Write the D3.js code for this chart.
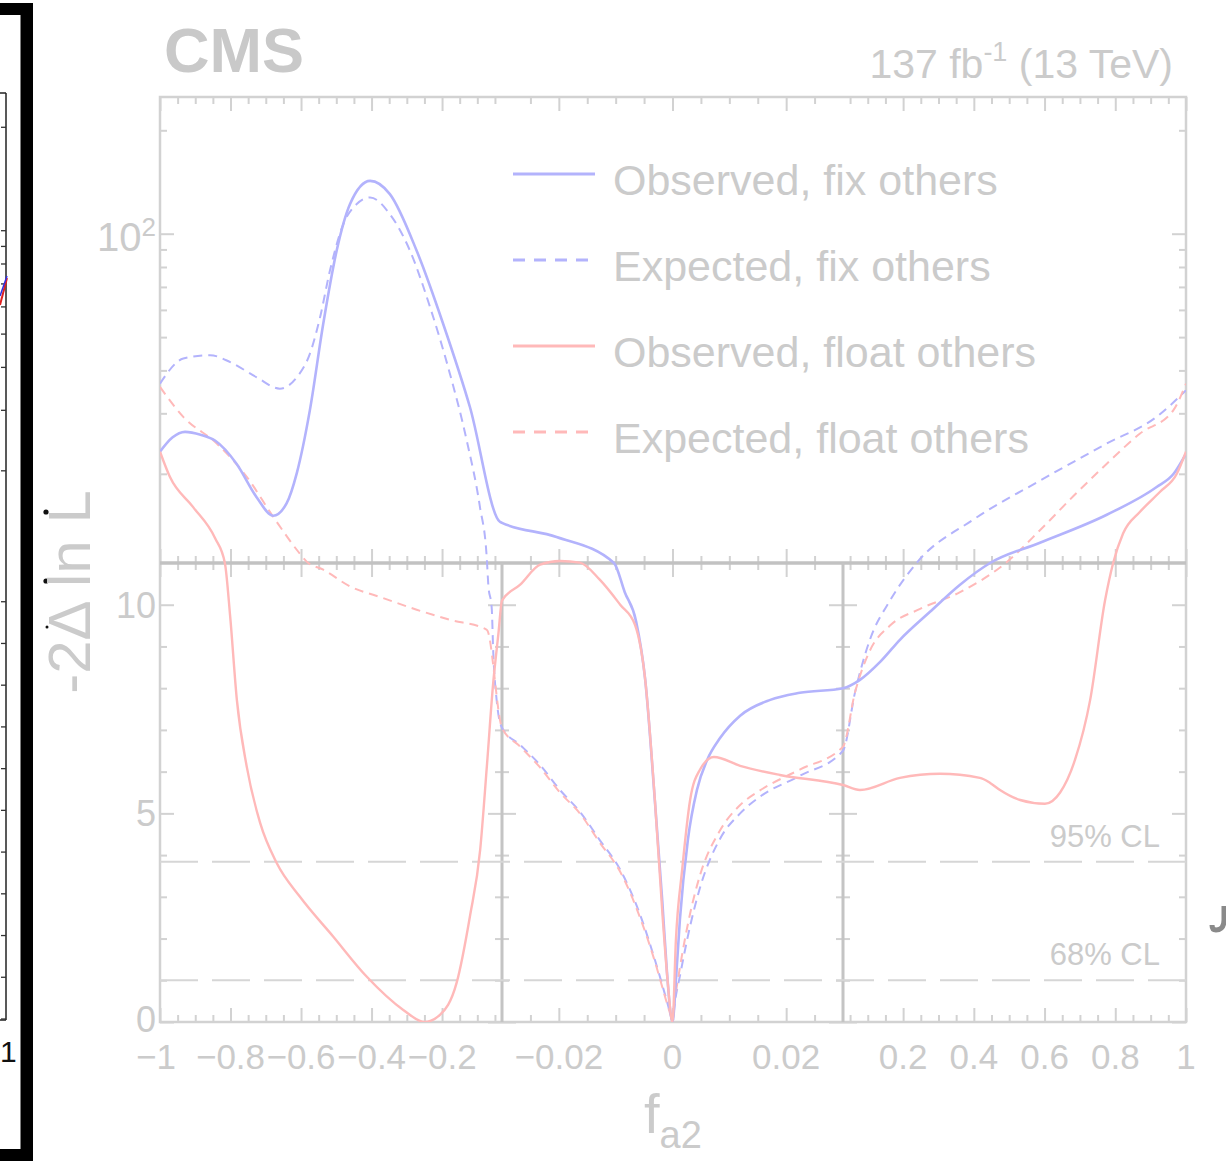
<!DOCTYPE html>
<html>
<head>
<meta charset="utf-8">
<script src="https://cdn.jsdelivr.net/npm/d3@7"></script>
<style>
  html, body { margin: 0; padding: 0; background: #fff; }
  svg { display: block; font-family: "Liberation Sans", Arial, Helvetica, sans-serif; }
</style>
</head>
<body>
<svg id="chart" width="1226" height="1161"></svg>
<script>
// ---- Likelihood scan data: -2 Delta ln L versus f_a2 ----
const obsFixX = [-1, -0.965, -0.929, -0.885, -0.844, -0.783, -0.726, -0.679, -0.641, -0.612, -0.575, -0.537, -0.499, -0.461, -0.404, -0.348, -0.272, -0.197, -0.121, -0.036, -0.03, -0.0204, -0.0103, -0.0084, -0.0064, -0.0048, -0.0031, -0.0018, -0.001, -0.0003, 0, 0.0006, 0.0013, 0.0027, 0.0043, 0.0061, 0.0084, 0.0119, 0.0172, 0.0224, 0.03, 0.078, 0.135, 0.191, 0.276, 0.361, 0.446, 0.587, 0.776, 0.917, 0.965, 1];
const obsFixY = [23.2, 25.5, 26.5, 26.0, 25.0, 21.4, 17.1, 15.1, 16.4, 20.1, 30.6, 54.7, 89.2, 122, 142.5, 130.4, 89.2, 54.7, 31.3, 14.5, 14.4, 13.1, 11.0, 10.3, 9.6, 8.2, 5.3, 2.9, 1.25, 0.17, 0, 1.0, 2.45, 4.36, 5.56, 6.28, 6.81, 7.34, 7.72, 7.89, 8.0, 8.2, 8.63, 9.16, 9.83, 10.48, 11.0, 12.6, 15.2, 18.3, 20.0, 22.9];

const expFixX = [-1, -0.934, -0.858, -0.801, -0.726, -0.660, -0.612, -0.575, -0.546, -0.518, -0.480, -0.442, -0.404, -0.348, -0.291, -0.234, -0.178, -0.130, -0.0925, -0.0735, -0.069, -0.059, -0.055, -0.045, -0.03, -0.0268, -0.0233, -0.0198, -0.0163, -0.0128, -0.0092, -0.0057, -0.0031, -0.0013, -0.0001, 0, 0.0004, 0.0013, 0.0031, 0.0048, 0.0084, 0.0119, 0.0154, 0.0224, 0.03, 0.064, 0.106, 0.163, 0.238, 0.398, 0.587, 0.776, 0.917, 1];
const expFixY = [36.6, 43.3, 44.3, 42.3, 38.2, 35.4, 38.2, 44.7, 57.1, 78.1, 106.7, 122, 127.5, 114, 89.2, 61.1, 39.2, 25.0, 16.0, 11.5, 10.5, 9.9, 8.9, 7.7, 7.05, 6.64, 6.16, 5.56, 5.04, 4.36, 3.65, 2.57, 1.49, 0.65, 0.05, 0, 0.45, 1.1, 2.3, 3.2, 4.4, 5.0, 5.4, 5.9, 6.5, 7.9, 9.16, 10.1, 11.0, 14.7, 19.1, 24.5, 29.3, 35.0];

const obsFloatX = [-1, -0.972, -0.906, -0.844, -0.816, -0.801, -0.782, -0.754, -0.716, -0.669, -0.603, -0.509, -0.414, -0.31, -0.25, -0.206, -0.159, -0.121, -0.092, -0.073, -0.055, -0.04, -0.03, -0.0268, -0.0233, -0.0198, -0.0163, -0.0128, -0.0092, -0.0066, -0.0048, -0.0031, -0.0017, -0.0008, -0.0002, 0, 0.0006, 0.0017, 0.0031, 0.0048, 0.0073, 0.0119, 0.0189, 0.03, 0.078, 0.191, 0.304, 0.417, 0.446, 0.474, 0.531, 0.601, 0.644, 0.686, 0.729, 0.771, 0.794, 0.822, 0.870, 0.926, 0.974, 1];
const obsFloatY = [23.2, 19.6, 16.0, 13.0, 11.0, 9.72, 7.72, 6.12, 4.77, 3.81, 3.0, 2.05, 1.09, 0.29, 0.0, 0.17, 0.93, 2.53, 4.12, 6.12, 8.12, 9.32, 10.1, 10.48, 10.96, 11.15, 11.03, 10.6, 10.0, 9.52, 8.2, 5.32, 2.45, 0.89, 0.1, 0, 1.97, 3.65, 5.32, 6.04, 6.35, 6.14, 5.92, 5.68, 5.56, 5.85, 5.95, 5.85, 5.73, 5.56, 5.32, 5.23, 5.5, 6.28, 7.72, 10.1, 11.0, 13.4, 15.5, 17.7, 20.0, 23.2];

const expFloatX = [-1, -0.934, -0.839, -0.754, -0.679, -0.603, -0.584, -0.537, -0.461, -0.367, -0.272, -0.178, -0.073, -0.03, -0.0268, -0.0233, -0.0198, -0.0163, -0.0128, -0.0092, -0.0057, -0.0031, -0.0013, -0.0001, 0, 0.0004, 0.0013, 0.0031, 0.0048, 0.0084, 0.0119, 0.0154, 0.0224, 0.03, 0.064, 0.106, 0.163, 0.248, 0.361, 0.490, 0.587, 0.681, 0.776, 0.870, 0.964, 1];
const expFloatY = [35.8, 29.3, 24.5, 19.6, 15.0, 11.7, 11.1, 10.84, 10.44, 10.16, 9.88, 9.64, 9.4, 7.05, 6.6, 6.1, 5.5, 5.0, 4.3, 3.6, 2.5, 1.45, 0.6, 0.05, 0, 0.5, 1.3, 2.6, 3.5, 4.6, 5.2, 5.55, 6.05, 6.6, 7.9, 8.9, 9.5, 9.9, 10.3, 11.0, 13.7, 17.2, 21.4, 26.2, 30.6, 36.6];

const legendLabels = ["Observed, fix others", "Expected, fix others", "Observed, float others", "Expected, float others"];

// Axis ticks and labels
const xSegmentEdges = [-1, -0.03, 0.03, 1];
const xMajorTicks = [-1, -0.8, -0.6, -0.4, -0.2, -0.02, 0, 0.02, 0.2, 0.4, 0.6, 0.8, 1];
const xTickLabels = ["\u22121", "\u22120.8", "\u22120.6", "\u22120.4", "\u22120.2", "\u22120.02", "0", "0.02", "0.2", "0.4", "0.6", "0.8", "1"];
const yLowMajorTicks = [0, 5, 10];
const yLowTickLabels = ["0", "5", "10"];
const yLowMinorTicks = [1, 2, 3, 4, 6, 7, 8, 9];
const yHighMajorTicks = [100];
const yHighMinorTicks = [20, 30, 40, 50, 60, 70, 80, 90, 200];
const clLevels = [3.84, 1.0];
const clLabels = ["95% CL", "68% CL"];

// ---- Layout ----
const L = 160, R = 1186, T = 97, B = 1022, SPLIT = 563;
const GRAY = "#cbcbcb", AXIS = "#d2d2d2", BLUE = "#b3b3fc", RED = "#ffb9b9";

const svg = d3.select("#chart");

// Piecewise x axis: three zones with their own linear mappings
const x = d3.scaleLinear().domain(xSegmentEdges).range([L, 502, 843, R]);
// Lower panel linear, upper panel logarithmic
const yLin = d3.scaleLinear().domain([0, 11]).range([B, SPLIT]);
const yLog = d3.scaleLog().domain([11, 250]).range([SPLIT, T]);
const y = v => (v <= 11 ? yLin(v) : yLog(v));

const xMinor = [].concat(
  d3.range(1, 20).map(i => -1 + i * 0.05),
  d3.range(-5, 6).map(i => i * 0.005),
  d3.range(1, 20).map(i => i * 0.05)
).filter(v => !xMajorTicks.some(m => Math.abs(m - v) < 1e-9) && Math.abs(v) !== 0.03);

// ---- Frame fragments on the page edges ----
const edge = svg.append("g");
edge.append("rect").attr("x", 0).attr("y", 3).attr("width", 33).attr("height", 12).attr("fill", "#000");
edge.append("rect").attr("x", 20.5).attr("y", 3).attr("width", 12.5).attr("height", 1157).attr("fill", "#000");
edge.append("rect").attr("x", 0).attr("y", 1149).attr("width", 33).attr("height", 12).attr("fill", "#000");
edge.append("line").attr("x1", 6).attr("x2", 6).attr("y1", T - 4).attr("y2", B - 2)
  .attr("stroke", "#222").attr("stroke-width", 1.5);
edge.append("line").attr("x1", 0).attr("x2", 6).attr("y1", T - 4).attr("y2", T - 4)
  .attr("stroke", "#222").attr("stroke-width", 1.5);
edge.append("line").attr("x1", 0).attr("x2", 6).attr("y1", B - 2).attr("y2", B - 2)
  .attr("stroke", "#222").attr("stroke-width", 1.5);
yHighMinorTicks.concat(yHighMajorTicks).forEach(v => {
  edge.append("line").attr("x1", 1).attr("x2", 6).attr("y1", yLog(v) - 3).attr("y2", yLog(v) - 3)
    .attr("stroke", "#333").attr("stroke-width", 1.3);
});
yLowMinorTicks.concat(yLowMajorTicks).forEach(v => {
  edge.append("line").attr("x1", 1).attr("x2", 6).attr("y1", yLin(v) - 3).attr("y2", yLin(v) - 3)
    .attr("stroke", "#333").attr("stroke-width", 1.3);
});
edge.append("line").attr("x1", 0).attr("x2", 7).attr("y1", 305).attr("y2", 278).attr("stroke", "#e02020").attr("stroke-width", 2);
edge.append("line").attr("x1", 0).attr("x2", 7).attr("y1", 296).attr("y2", 276).attr("stroke", "#3030e0").attr("stroke-width", 1.5);
edge.append("text").attr("x", 0).attr("y", 1062).attr("text-anchor", "start")
  .attr("font-size", 30).attr("fill", "#111").text("1");
[[46, 512, 2.6], [46, 581, 2.6], [47, 627, 1.5]].forEach(d => {
  edge.append("circle").attr("cx", d[0]).attr("cy", d[1]).attr("r", d[2]).attr("fill", "#111");
});
edge.append("path").attr("d", "M1224,906 L1224,920 Q1224,930 1216,930 Q1212,930 1212,925")
  .attr("fill", "none").attr("stroke", "#8a8a8a").attr("stroke-width", 5);

// ---- Axes (tick marks only, labels drawn separately) ----
function ticks(axis, values, size, transform) {
  const g = svg.append("g").attr("transform", transform)
    .call(axis.tickValues(values).tickSize(size).tickFormat(""));
  g.select(".domain").remove();
  g.selectAll(".tick line").attr("stroke", AXIS).attr("stroke-width", 2);
  return g;
}
// bottom & top of frame, and both sides of the panel boundary
ticks(d3.axisTop(x), xMinor, 7, `translate(0,${B})`);
ticks(d3.axisTop(x), xMajorTicks, 14, `translate(0,${B})`);
ticks(d3.axisBottom(x), xMinor, 7, `translate(0,${T})`);
ticks(d3.axisBottom(x), xMajorTicks, 14, `translate(0,${T})`);
ticks(d3.axisTop(x), xMinor, 7, `translate(0,${SPLIT})`);
ticks(d3.axisTop(x), xMajorTicks, 14, `translate(0,${SPLIT})`);
ticks(d3.axisBottom(x), xMinor, 7, `translate(0,${SPLIT})`);
ticks(d3.axisBottom(x), xMajorTicks, 14, `translate(0,${SPLIT})`);
// left & right, upper (log) panel
ticks(d3.axisRight(yLog), yHighMinorTicks, 7, `translate(${L},0)`);
ticks(d3.axisRight(yLog), yHighMajorTicks, 14, `translate(${L},0)`);
ticks(d3.axisLeft(yLog), yHighMinorTicks, 7, `translate(${R},0)`);
ticks(d3.axisLeft(yLog), yHighMajorTicks, 14, `translate(${R},0)`);
// left & right, lower (linear) panel, plus both sides of the zone dividers
ticks(d3.axisRight(yLin), yLowMinorTicks, 7, `translate(${L},0)`);
ticks(d3.axisRight(yLin), yLowMajorTicks, 14, `translate(${L},0)`);
ticks(d3.axisLeft(yLin), yLowMinorTicks, 7, `translate(${R},0)`);
ticks(d3.axisLeft(yLin), yLowMajorTicks, 14, `translate(${R},0)`);
[x(-0.03), x(0.03)].forEach(px => {
  ticks(d3.axisLeft(yLin), yLowMinorTicks, 7, `translate(${px},0)`);
  ticks(d3.axisLeft(yLin), yLowMajorTicks, 14, `translate(${px},0)`);
  ticks(d3.axisRight(yLin), yLowMinorTicks, 7, `translate(${px},0)`);
  ticks(d3.axisRight(yLin), yLowMajorTicks, 14, `translate(${px},0)`);
});

// Frame, panel boundary, zone dividers
svg.append("rect").attr("x", L).attr("y", T).attr("width", R - L).attr("height", B - T)
  .attr("fill", "none").attr("stroke", AXIS).attr("stroke-width", 2.5);
svg.append("line").attr("x1", L).attr("x2", R).attr("y1", SPLIT).attr("y2", SPLIT)
  .attr("stroke", "#c2c2c2").attr("stroke-width", 3.5);
[x(-0.03), x(0.03)].forEach(px => {
  svg.append("line").attr("x1", px).attr("x2", px).attr("y1", SPLIT).attr("y2", B)
    .attr("stroke", "#c4c4c4").attr("stroke-width", 3);
});

// Confidence-level reference lines
clLevels.forEach((v, i) => {
  svg.append("line").attr("x1", L).attr("x2", R).attr("y1", yLin(v)).attr("y2", yLin(v))
    .attr("stroke", "#d6d6d6").attr("stroke-width", 2.2).attr("stroke-dasharray", "38,14");
  svg.append("text").attr("x", 1160).attr("y", yLin(v) - 15).attr("text-anchor", "end")
    .attr("font-size", 31).attr("fill", GRAY).text(clLabels[i]);
});

// ---- Curves ----
svg.append("clipPath").attr("id", "plotClip").append("rect")
  .attr("x", L).attr("y", T).attr("width", R - L).attr("height", B - T);
const line = d3.line().x(d => x(d[0])).y(d => y(d[1])).curve(d3.curveMonotoneX);
const zipXY = (xs, ys) => xs.map((v, i) => [v, ys[i]]);
const series = [
  { pts: zipXY(expFixX, expFixY), color: BLUE, dash: "9,6", w: 2 },
  { pts: zipXY(expFloatX, expFloatY), color: RED, dash: "9,6", w: 2 },
  { pts: zipXY(obsFixX, obsFixY), color: BLUE, dash: null, w: 2.6 },
  { pts: zipXY(obsFloatX, obsFloatY), color: RED, dash: null, w: 2.4 }
];
const curves = svg.append("g").attr("clip-path", "url(#plotClip)");
series.forEach(s => {
  curves.append("path").attr("d", line(s.pts)).attr("fill", "none")
    .attr("stroke", s.color).attr("stroke-width", s.w)
    .attr("stroke-dasharray", s.dash);
});

// ---- Legend ----
const legendStyles = [
  { color: BLUE, dash: null }, { color: BLUE, dash: "12,9" },
  { color: RED, dash: null }, { color: RED, dash: "12,9" }
];
legendLabels.forEach((lab, i) => {
  const ly = 174 + i * 86;
  svg.append("line").attr("x1", 513).attr("x2", 595).attr("y1", ly).attr("y2", ly)
    .attr("stroke", legendStyles[i].color).attr("stroke-width", 2.8)
    .attr("stroke-dasharray", legendStyles[i].dash);
  svg.append("text").attr("x", 613).attr("y", ly + 21).attr("font-size", 43)
    .attr("fill", GRAY).text(lab);
});

// ---- Tick labels ----
xMajorTicks.forEach((v, i) => {
  svg.append("text").attr("x", x(v) + (i === 0 ? -4 : 0)).attr("y", 1069)
    .attr("text-anchor", "middle").attr("font-size", 35).attr("fill", GRAY).text(xTickLabels[i]);
});
yLowMajorTicks.forEach((v, i) => {
  svg.append("text").attr("x", 156).attr("y", yLin(v) + (v === 0 ? 10 : 13))
    .attr("text-anchor", "end").attr("font-size", 36).attr("fill", GRAY).text(yLowTickLabels[i]);
});
const t100 = svg.append("text").attr("x", 156).attr("y", yLog(100) + 17)
  .attr("text-anchor", "end").attr("font-size", 40).attr("fill", GRAY);
t100.append("tspan").text("10");
t100.append("tspan").attr("dy", -15).attr("font-size", 26).text("2");

// ---- Titles ----
svg.append("text").attr("x", 164).attr("y", 72).attr("font-size", 63).attr("font-weight", "bold")
  .attr("fill", "#c9c9c9").text("CMS");
const lumi = svg.append("text").attr("x", 1173).attr("y", 78).attr("text-anchor", "end")
  .attr("font-size", 41).attr("fill", GRAY);
lumi.append("tspan").text("137 fb");
lumi.append("tspan").attr("dy", -17).attr("font-size", 27).text("-1");
lumi.append("tspan").attr("dy", 17).text(" (13 TeV)");

svg.append("text").attr("transform", "translate(90,592) rotate(-90)")
  .attr("text-anchor", "middle").attr("font-size", 60).attr("fill", GRAY).text("-2\u0394 ln L");

const xt = svg.append("text").attr("x", 644).attr("y", 1133).attr("font-size", 56).attr("fill", GRAY);
xt.append("tspan").text("f");
xt.append("tspan").attr("dy", 15).attr("font-size", 38).text("a2");
</script>
</body>
</html>
